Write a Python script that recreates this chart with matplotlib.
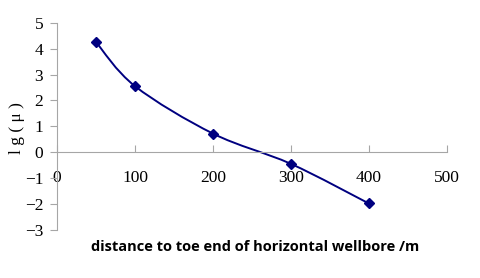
import numpy as np
import matplotlib.pyplot as plt
from matplotlib.path import Path
from matplotlib.patches import PathPatch

# distance to toe end (m) and lg(mu)
distance = [50, 100, 200, 300, 400]
lg_mu = [4.25, 2.55, 0.72, -0.45, -1.98]

x_ticks = [0, 100, 200, 300, 400, 500]
y_ticks = [-3, -2, -1, 0, 1, 2, 3, 4, 5]

NAVY = '#000080'
GRAY = '#a6a6a6'


def smooth_path(x, y, tension=0.5):
    # Excel-style smoothed line: cubic Bezier segments through the points
    pts = np.column_stack([x, y]).astype(float)
    n = len(pts)
    verts = [pts[0]]
    codes = [Path.MOVETO]
    for i in range(n - 1):
        p0 = pts[i - 1] if i > 0 else pts[i]
        p1 = pts[i]
        p2 = pts[i + 1]
        p3 = pts[i + 2] if i + 2 < n else pts[i + 1]
        c1 = p1 + (p2 - p0) * tension / 3
        c2 = p2 - (p3 - p1) * tension / 3
        verts += [c1, c2, p2]
        codes += [Path.CURVE4] * 3
    return Path(verts, codes)


def main():
    plt.rcParams['font.family'] = ['Liberation Serif', 'DejaVu Serif']
    fig = plt.figure(figsize=(4.8, 2.78), dpi=100)
    ax = fig.add_axes([0.119, 0.173, 0.812, 0.745])

    ax.set_xlim(0, 500)
    ax.set_ylim(-3, 5)
    # smooth in pixel-like units so the curve bends like the original
    sx = 390 / 500
    sy = 207 / 8
    path = smooth_path(np.array(distance) * sx, np.array(lg_mu) * sy)
    path = Path(path.vertices / [sx, sy], path.codes)
    ax.add_patch(PathPatch(path, facecolor='none', edgecolor=NAVY, lw=1.4))
    ax.plot(distance, lg_mu, linestyle='none', marker='D', markersize=5,
            color=NAVY)

    for s in ['top', 'right']:
        ax.spines[s].set_visible(False)
    ax.spines['left'].set_color(GRAY)
    ax.spines['bottom'].set_color(GRAY)
    ax.spines['bottom'].set_position(('data', 0))

    ax.set_xticks(x_ticks)
    ax.set_yticks(y_ticks)
    ax.tick_params(axis='x', direction='in', length=5, color=GRAY, pad=13,
                   labelsize=12.5)
    ax.tick_params(axis='y', direction='out', length=5, color=GRAY, pad=5,
                   labelsize=12.5)

    ax.set_ylabel('l g ( μ )', fontsize=12.5, va='center')
    ax.yaxis.set_label_coords(-0.103, 0.49)
    fig.text(0.531, 0.112, 'distance to toe end of horizontal wellbore /m',
             family='Open Sans', fontweight='bold', fontsize=10.5,
             ha='center', va='center')

    fig.savefig('out.png', dpi=100)


if __name__ == '__main__':
    main()
